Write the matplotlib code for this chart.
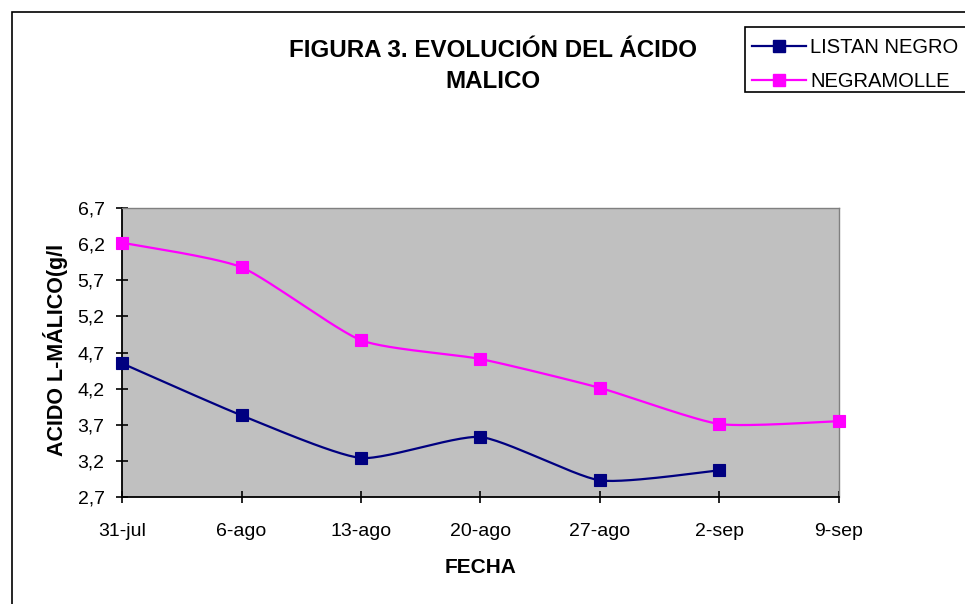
import numpy as np
import matplotlib
matplotlib.use("Agg")
from matplotlib import pyplot as plt
from matplotlib.patches import Rectangle

plt.rcParams['font.family'] = ['Liberation Sans', 'DejaVu Sans']

# data
fechas = ['31-jul', '6-ago', '13-ago', '20-ago', '27-ago', '2-sep', '9-sep']
listan_negro = [4.55, 3.83, 3.24, 3.53, 2.93, 3.07]
negramolle = [6.22, 5.88, 4.87, 4.61, 4.21, 3.71, 3.75]
y_ticks = [2.7, 3.2, 3.7, 4.2, 4.7, 5.2, 5.7, 6.2, 6.7]


def smooth(xs, ys, c=0.6, n=30):
    # cardinal spline through the points (softer than catmull-rom)
    xs = np.asarray(xs, float)
    ys = np.asarray(ys, float)
    px = np.concatenate([[xs[0]], xs, [xs[-1]]])
    py = np.concatenate([[ys[0]], ys, [ys[-1]]])
    t = np.linspace(0, 1, n)
    h00 = 2 * t ** 3 - 3 * t ** 2 + 1
    h10 = t ** 3 - 2 * t ** 2 + t
    h01 = -2 * t ** 3 + 3 * t ** 2
    h11 = t ** 3 - t ** 2
    out_x, out_y = [], []
    for i in range(1, len(px) - 2):
        for p, out in ((px, out_x), (py, out_y)):
            m1 = c * (p[i + 1] - p[i - 1]) / 2
            m2 = c * (p[i + 2] - p[i]) / 2
            out.extend(h00 * p[i] + h10 * m1 + h01 * p[i + 1] + h11 * m2)
    return np.array(out_x), np.array(out_y)


W, H = 965, 604
fig = plt.figure(figsize=(W / 100, H / 100), dpi=100)
ax = fig.add_axes([122 / W, 1 - 497 / H, (839 - 122) / W, (497 - 208) / H])
ax.set_facecolor('#C0C0C0')

series = [
    ('LISTAN NEGRO', listan_negro, '#000080'),
    ('NEGRAMOLLE', negramolle, '#FF00FF'),
]
handles = []
for name, vals, color in series:
    xs = np.arange(len(vals))
    sx, sy = smooth(xs, vals)
    ax.plot(sx, sy, color=color, lw=1.6, zorder=3)
    ax.plot(xs, vals, ls='none', marker='s', ms=8, mfc=color,
            mec=color, mew=0.8, zorder=4, clip_on=False)
    h, = ax.plot([], [], color=color, lw=1.6, marker='s', ms=8, mfc=color, mec=color)
    handles.append((h, name))

ax.set_xlim(0, len(fechas) - 1)
ax.set_ylim(2.7, 6.7)
ax.set_xticks(range(len(fechas)))
ax.set_xticklabels(fechas)
ax.set_yticks(y_ticks)
ax.set_yticklabels([f'{v:.1f}'.replace('.', ',') for v in y_ticks])
ax.tick_params(direction='inout', length=9, width=1.2, labelsize=14)
ax.tick_params(axis='x', pad=14.5)
ax.tick_params(axis='y', pad=8)

for side in ('top', 'right'):
    ax.spines[side].set_color('#808080')
    ax.spines[side].set_linewidth(1)
for side in ('left', 'bottom'):
    ax.spines[side].set_color('black')
    ax.spines[side].set_linewidth(1.3)

ax.set_xlabel('FECHA', fontsize=15, fontweight='bold')
ax.xaxis.set_label_coords(0.5, -(558 - 497) / 289)
ax.set_ylabel('ACIDO L-MÁLICO(g/l', fontsize=15.5, fontweight='bold')
ax.yaxis.set_label_coords(-(122 - 68) / 717, (497 - 350) / 289)

fig.text(493 / W, 1 - 66 / H, 'FIGURA 3. EVOLUCIÓN DEL ÁCIDO\nMALICO',
         ha='center', va='center', fontsize=17.4, fontweight='bold', linespacing=1.47)

# chart area border
fig.patches.append(Rectangle((12 / W, -0.01), 1.0, 1 - 12 / H + 0.01,
                             transform=fig.transFigure, fill=False,
                             edgecolor='black', lw=1.2))

# legend box (excel style, runs off the right edge)
fig.patches.append(Rectangle((745 / W, 1 - 92 / H), 1.0, (92 - 27) / H,
                             transform=fig.transFigure, facecolor='white',
                             edgecolor='black', lw=1.2, zorder=5))
leg = fig.legend([h for h, _ in handles], [n for _, n in handles],
                 loc='center left', bbox_to_anchor=(752 / W, 1 - 64.5 / H),
                 fontsize=14.5, frameon=False, borderpad=0,
                 handlelength=2.7, handletextpad=0.2, labelspacing=0.75,
                 borderaxespad=0)
leg.set_zorder(6)

fig.savefig('out.png', dpi=100)
